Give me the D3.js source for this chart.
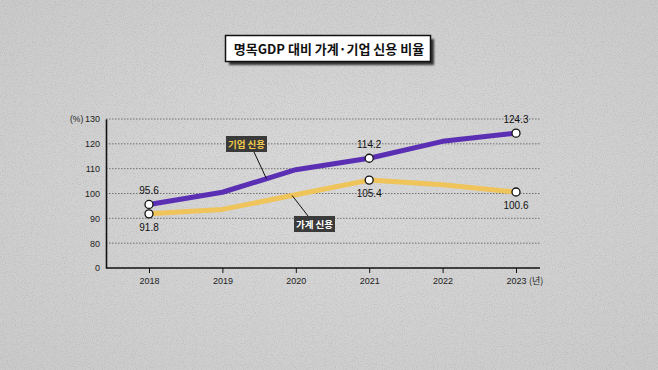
<!DOCTYPE html>
<html>
<head>
<meta charset="utf-8">
<script src="https://cdn.jsdelivr.net/npm/d3@7"></script>
<style>
  html, body { margin: 0; padding: 0; background: #d3d3d3; }
  svg { display: block; font-family: "Noto Sans CJK KR", "Noto Sans", sans-serif; }
</style>
</head>
<body>
<div id="chart"></div>
<script>
// chart data
const years = [2018, 2019, 2020, 2021, 2022, 2023];
const corporate = [95.6, 100.5, 109.6, 114.2, 121.0, 124.3];   // 기업 신용
const household = [91.8, 93.6, 99.5, 105.4, 103.5, 100.6];     // 가계 신용
const yTicks = [70, 80, 90, 100, 110, 120, 130];               // 70 is drawn as the broken "0"
const yTickLabels = ["0", "80", "90", "100", "110", "120", "130"];
const labeled = [0, 3, 5];                                      // indexes with value labels

const W = 658, H = 370;
const margin = { top: 119, right: 118, bottom: 102, left: 106 };
const width = W - margin.left - margin.right;
const height = H - margin.top - margin.bottom;
const numFont = "Liberation Sans, Arial, sans-serif";

const svg = d3.select("#chart").append("svg")
    .attr("width", W)
    .attr("height", H);

// paper background with light speckle
const defs = svg.append("defs");
const grad = defs.append("radialGradient").attr("id", "bg").attr("cx", "50%").attr("cy", "50%").attr("r", "70%");
grad.append("stop").attr("offset", "0%").attr("stop-color", "#dadada");
grad.append("stop").attr("offset", "100%").attr("stop-color", "#cacaca");
const noise = defs.append("filter").attr("id", "speckle");
noise.append("feTurbulence").attr("type", "fractalNoise").attr("baseFrequency", 0.9).attr("numOctaves", 2).attr("seed", 3);
noise.append("feColorMatrix").attr("type", "matrix")
    .attr("values", "0 0 0 0 0.3  0 0 0 0 0.3  0 0 0 0 0.3  0 0 0 -2.4 1.3");
const shadow = defs.append("filter").attr("id", "shadow");
shadow.append("feGaussianBlur").attr("stdDeviation", 0.8);

svg.append("rect").attr("width", W).attr("height", H).attr("fill", "url(#bg)");
svg.append("rect").attr("width", W).attr("height", H).attr("filter", "url(#speckle)").attr("opacity", 0.3);

// title box
const title = svg.append("g");
title.append("rect").attr("x", 229).attr("y", 39).attr("width", 205).attr("height", 26)
    .attr("fill", "#333").attr("filter", "url(#shadow)");
title.append("rect").attr("x", 225.5).attr("y", 35.5).attr("width", 205).attr("height", 26)
    .attr("fill", "#fff").attr("stroke", "#111").attr("stroke-width", 1.5);
title.append("text").attr("x", 329).attr("y", 53.5)
    .attr("text-anchor", "middle")
    .attr("font-size", 13).attr("font-weight", 700).attr("fill", "#111")
    .text("명목GDP 대비 가계·기업 신용 비율");

const g = svg.append("g").attr("transform", `translate(${margin.left},${margin.top})`);

// scales
const x = d3.scalePoint().domain(years).range([43, 410]);
const y = d3.scaleLinear().domain([70, 130]).range([height, 0]);

// dotted grid lines (not for the broken 0)
g.append("g")
    .selectAll("line")
    .data(yTicks.slice(1))
    .enter().append("line")
    .attr("x1", 0).attr("x2", 434)
    .attr("y1", d => y(d)).attr("y2", d => y(d))
    .attr("stroke", "#666").attr("stroke-width", 0.9).attr("stroke-dasharray", "1.5,1.5");

// y axis
const yAxis = g.append("g")
    .call(d3.axisLeft(y).tickValues(yTicks).tickSize(0).tickPadding(6)
        .tickFormat((d, i) => yTickLabels[i]));
yAxis.select(".domain").attr("stroke", "#111").attr("stroke-width", 1.6);
yAxis.selectAll("text").attr("font-size", 9).attr("fill", "#222").attr("font-family", numFont);
g.append("text").attr("x", -36).attr("y", y(130)).attr("dy", "0.32em")
    .attr("font-size", 8.5).attr("fill", "#222").attr("font-family", numFont)
    .attr("text-anchor", "start").text("(%)");

// x axis
const xAxis = g.append("g")
    .attr("transform", `translate(0,${height})`)
    .call(d3.axisBottom(x).tickSize(5).tickPadding(5));
xAxis.select(".domain").remove();
xAxis.selectAll(".tick line").attr("stroke", "#111").attr("stroke-width", 1);
xAxis.selectAll("text").attr("font-size", 9).attr("fill", "#222").attr("font-family", numFont);
g.append("line").attr("x1", 0).attr("x2", 434).attr("y1", height).attr("y2", height)
    .attr("stroke", "#111").attr("stroke-width", 1.6);
g.append("text").attr("x", x(2023) + 13).attr("y", height + 10).attr("dy", "0.71em")
    .attr("font-size", 9).attr("fill", "#222").text("(년)");

// lines
const line = d3.line().x((d, i) => x(years[i])).y(d => y(d));
g.append("path").datum(household).attr("d", line)
    .attr("fill", "none").attr("stroke", "#efc45a").attr("stroke-width", 5).attr("stroke-linejoin", "round");
g.append("path").datum(corporate).attr("d", line)
    .attr("fill", "none").attr("stroke", "#5a2fb4").attr("stroke-width", 5).attr("stroke-linejoin", "round");

// point markers + labels
function addPoints(values, above) {
    labeled.forEach(i => {
        g.append("circle").attr("cx", x(years[i])).attr("cy", y(values[i])).attr("r", 4)
            .attr("fill", "#fff").attr("stroke", "#111").attr("stroke-width", 1.3);
        g.append("text").attr("x", x(years[i])).attr("y", y(values[i]) + (above ? -10 : 17))
            .attr("text-anchor", "middle").attr("font-size", 10).attr("fill", "#111")
            .attr("font-family", numFont)
            .text(values[i].toFixed(1));
    });
}
addPoints(corporate, true);
addPoints(household, false);

// callout labels with leader lines
function along(values, t) {
    const i = Math.floor(t), f = t - i;
    return [x(years[i]) + (x(years[i + 1]) - x(years[i])) * f,
            y(values[i] + (values[i + 1] - values[i]) * f)];
}
function callout(values, t, bx, by, text, color, fromTop) {
    const p = along(values, t);
    g.append("line")
        .attr("x1", fromTop ? bx + 14 : bx + 28).attr("y1", fromTop ? by : by + 16)
        .attr("x2", p[0]).attr("y2", p[1])
        .attr("stroke", "#111").attr("stroke-width", 1);
    g.append("rect").attr("x", bx).attr("y", by).attr("width", 41).attr("height", 16).attr("fill", "#3a3a3a");
    g.append("text").attr("x", bx + 20.5).attr("y", by + 11.5).attr("text-anchor", "middle")
        .attr("font-size", 9.5).attr("font-weight", 700).attr("fill", color).text(text);
}
callout(corporate, 1.6, 120, 17, "기업 신용", "#f2c94c", false);
callout(household, 1.95, 188, 97, "가계 신용", "#fff", true);
</script>
</body>
</html>
